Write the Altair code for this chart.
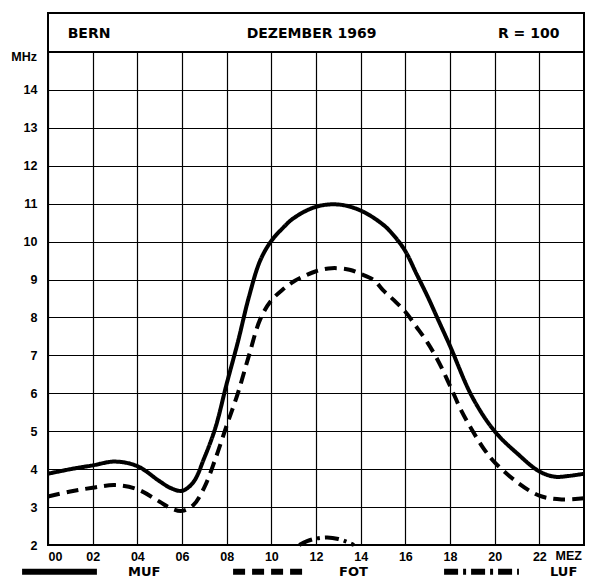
import altair as alt
import pandas as pd

# ---- data ----
series_names = ["MUF", "FOT", "LUF"]

muf_hours = [0, 1, 2, 3, 4, 5, 5.5, 6, 6.5, 7, 7.5, 8, 8.5, 9, 9.5, 10, 10.5, 11, 12, 13, 14,
             15, 15.5, 16, 16.5, 17, 17.5, 18, 19, 20, 21, 22, 22.7, 23.3, 24]
muf_values = [3.88, 4.0, 4.1, 4.2, 4.08, 3.68, 3.5, 3.43, 3.65, 4.3, 5.1, 6.25, 7.35, 8.55, 9.5,
              10.02, 10.35, 10.62, 10.92, 10.98, 10.82, 10.45, 10.15, 9.75, 9.15, 8.55, 7.9,
              7.25, 5.9, 5.0, 4.42, 3.94, 3.8, 3.82, 3.88]

fot_hours = [0, 1, 2, 3, 4, 5, 5.5, 6, 6.5, 7, 7.5, 8, 8.5, 9, 9.5, 10, 10.5, 11, 11.5, 12,
             12.7, 13.5, 14, 14.6, 15, 15.5, 16, 16.5, 17, 17.5, 18, 18.5, 19, 19.5, 20, 21,
             22, 23, 24]
fot_values = [3.28, 3.41, 3.51, 3.58, 3.47, 3.14, 2.97, 2.9, 3.05, 3.52, 4.28, 5.15, 6.0, 7.0,
              7.95, 8.45, 8.73, 8.95, 9.1, 9.22, 9.3, 9.26, 9.15, 8.98, 8.72, 8.45, 8.15, 7.75,
              7.33, 6.82, 6.2, 5.55, 5.02, 4.55, 4.18, 3.66, 3.3, 3.2, 3.23]

luf_hours = [11.25, 11.6, 12.0, 12.5, 13.0, 13.4, 13.7]
luf_values = [2.0, 2.1, 2.17, 2.2, 2.16, 2.08, 2.0]

x_ticks = list(range(0, 25, 2))
y_ticks = list(range(2, 16))

title_left = "BERN"
title_mid = "DEZEMBER 1969"
title_right = "R = 100"
y_unit = "MHz"
x_unit = "MEZ"

rows = []
for name, hs, vs in [("MUF", muf_hours, muf_values), ("FOT", fot_hours, fot_values),
                     ("LUF", luf_hours, luf_values)]:
    for h, v in zip(hs, vs):
        rows.append({"hour": h, "mhz": v, "series": name})
df = pd.DataFrame(rows)

FONT = "DejaVu Sans"
TICK_FONT = "Liberation Sans"
Y_TOP = 16.03  # top of the title band

x_scale = alt.Scale(domain=[0, 24], nice=False, zero=False)
y_scale = alt.Scale(domain=[2, Y_TOP], nice=False, zero=False)

dash_scale = alt.Scale(domain=series_names, range=[[1, 0], [12, 7], [14, 5, 3, 5]])

lines = alt.Chart(df).mark_line(color="black", strokeWidth=4, interpolate="catmull-rom").encode(
    x=alt.X("hour:Q", scale=x_scale,
            axis=alt.Axis(values=x_ticks, title=None, format="02d",
                          labelExpr="datum.value == 24 ? '' : datum.label",
                          ticks=False, domain=False, labelPadding=5, grid=True)),
    y=alt.Y("mhz:Q", scale=y_scale,
            axis=alt.Axis(values=y_ticks, title=None,
                          labelExpr="datum.value == 15 ? '' : datum.label",
                          ticks=False, domain=False, labelPadding=11, grid=True)),
    strokeDash=alt.StrokeDash(
        "series:N", scale=dash_scale,
        legend=alt.Legend(title=None, orient="none", legendX=-29, legendY=518,
                          direction="horizontal", columns=3, symbolType="stroke",
                          symbolSize=5600, symbolStrokeWidth=6, symbolStrokeColor="black",
                          labelOffset=28, columnPadding=60, gridAlign="all",
                          labelFont=FONT, labelFontSize=13, labelFontWeight="bold",
                          labelColor="black")),
    detail="series:N",
)

one = alt.Data(values=[{}])

band = alt.Chart(one).mark_rect(fill="white", stroke="black", strokeWidth=2).encode(
    x=alt.datum(0, scale=x_scale), x2=alt.datum(24),
    y=alt.datum(15, scale=y_scale), y2=alt.datum(Y_TOP),
)

def ttext(txt, hour, align):
    return alt.Chart(one).mark_text(text=txt, align=align, baseline="middle", font=FONT,
                                    fontSize=14, fontWeight="bold", color="black").encode(
        x=alt.datum(hour), y=alt.datum(15.47))

t1 = ttext(title_left, 0.88, "left")
t2 = ttext(title_mid, 11.8, "center")
t3 = ttext(title_right, 22.9, "right")

mhz = alt.Chart(one).mark_text(text=y_unit, align="right", baseline="middle", font=TICK_FONT,
                               fontSize=12.5, fontWeight="bold", color="black",
                               dx=-11, dy=5).encode(x=alt.datum(0), y=alt.datum(15))
mez = alt.Chart(one).mark_text(text=x_unit, align="right", baseline="top", font=TICK_FONT,
                               fontSize=12.5, fontWeight="bold", color="black",
                               dx=-2, dy=5).encode(x=alt.datum(24), y=alt.datum(2))

chart = alt.layer(lines, band, t1, t2, t3, mhz, mez).properties(
    width=536, height=532,
    autosize=alt.AutoSizeParams(type="none"),
    padding={"left": 40, "top": 5, "right": 1, "bottom": 43},
    background="white",
).configure_view(stroke="black", strokeWidth=2).configure_axis(
    gridColor="black", gridWidth=1.2, gridOpacity=1,
    labelFont=TICK_FONT, labelFontSize=12.5, labelFontWeight="bold", labelColor="black",
)

chart.save("out.html", embed_options={"renderer": "svg", "actions": False})
